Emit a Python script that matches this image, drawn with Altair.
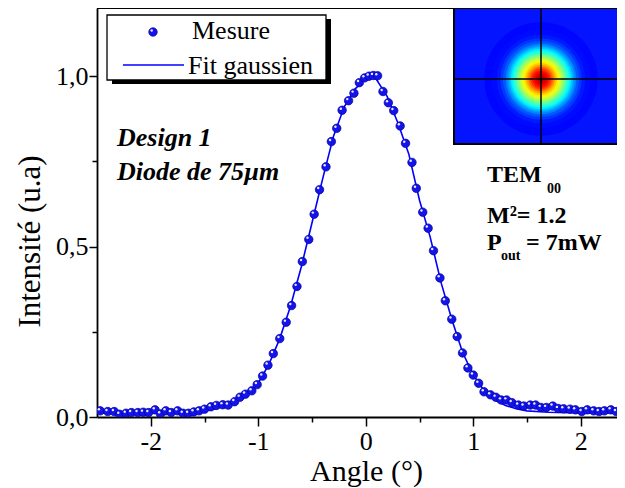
import altair as alt
import pandas as pd

# ---- measured points (angle in degrees, normalised intensity) ----
meas_x = [-2.47, -2.40, -2.34, -2.29, -2.23, -2.18, -2.12, -2.07, -2.02, -1.96,
          -1.91, -1.86, -1.81, -1.75, -1.70, -1.65, -1.60, -1.55, -1.50, -1.44,
          -1.39, -1.33, -1.28, -1.22, -1.17, -1.12, -1.06, -1.01, -0.96, -0.91,
          -0.86, -0.80, -0.74, -0.69, -0.64, -0.59, -0.53, -0.48, -0.43, -0.37,
          -0.32, -0.27, -0.22, -0.16, -0.11, -0.06, -0.01, 0.03, 0.07, 0.11,
          0.16, 0.21, 0.26, 0.32, 0.37, 0.43, 0.47, 0.53, 0.58, 0.63,
          0.69, 0.74, 0.80, 0.85, 0.90, 0.95, 1.00, 1.05, 1.10, 1.16,
          1.21, 1.26, 1.31, 1.36, 1.42, 1.47, 1.53, 1.58, 1.63, 1.68,
          1.74, 1.79, 1.84, 1.90, 1.95, 2.01, 2.06, 2.12, 2.17, 2.22,
          2.28, 2.33, 2.39]
meas_y = [0.018, 0.016, 0.016, 0.008, 0.011, 0.013, 0.013, 0.014, 0.013, 0.021,
          0.009, 0.018, 0.013, 0.018, 0.011, 0.011, 0.015, 0.018, 0.023, 0.030,
          0.034, 0.036, 0.035, 0.045, 0.058, 0.067, 0.077, 0.095, 0.120, 0.152,
          0.186, 0.230, 0.278, 0.327, 0.383, 0.456, 0.521, 0.595, 0.667, 0.734,
          0.808, 0.847, 0.900, 0.928, 0.950, 0.981, 0.995, 1.000, 1.002, 1.001,
          0.955, 0.922, 0.899, 0.854, 0.803, 0.747, 0.671, 0.601, 0.554, 0.488,
          0.408, 0.341, 0.287, 0.236, 0.188, 0.144, 0.123, 0.099, 0.074, 0.065,
          0.058, 0.050, 0.050, 0.042, 0.035, 0.032, 0.035, 0.035, 0.028, 0.028,
          0.032, 0.025, 0.024, 0.023, 0.021, 0.016, 0.021, 0.018, 0.016, 0.018,
          0.021, 0.016, 0.013]

# ---- gaussian fit curve ----
fit_x = [-2.5, -2.0, -1.7, -1.5, -1.4, -1.3, -1.2, -1.1, -1.0, -0.9, -0.8, -0.7,
         -0.6, -0.5, -0.4, -0.3, -0.2, -0.1, 0.0, 0.05, 0.1, 0.2, 0.3, 0.4, 0.5,
         0.6, 0.7, 0.8, 0.9, 1.0, 1.1, 1.2, 1.3, 1.4, 1.5, 1.7, 2.0, 2.45]
fit_y = [0.012, 0.012, 0.014, 0.018, 0.024, 0.032, 0.045, 0.066, 0.100, 0.155,
         0.230, 0.325, 0.440, 0.570, 0.700, 0.824, 0.910, 0.962, 0.993, 1.000,
         0.990, 0.940, 0.862, 0.772, 0.636, 0.527, 0.395, 0.287, 0.190, 0.123,
         0.078, 0.050, 0.034, 0.024, 0.018, 0.014, 0.012, 0.012]

# ---- inset beam profile (ring radius in px, normalised level) ----
ring_radius = [64, 56, 50, 46, 43, 40, 38, 36, 34, 32, 30, 28, 26, 24, 22, 20,
               18, 16, 14, 12, 10, 8, 6, 4, 2]
ring_level = [0.13, 0.135, 0.15, 0.18, 0.21, 0.25, 0.28, 0.32, 0.36, 0.40,
              0.44, 0.48, 0.52, 0.56, 0.60, 0.64, 0.68, 0.72, 0.77, 0.82,
              0.86, 0.89, 0.92, 0.94, 0.95]

x_ticks = [-2, -1.5, -1, -0.5, 0, 0.5, 1, 1.5, 2]
y_ticks = [0, 0.25, 0.5, 0.75, 1.0]

legend_labels = ["Mesure", "Fit gaussien"]
design_labels = ["Design 1", "Diode de 75\u00b5m"]

W, H = 520, 409
FONT = "Liberation Serif"
BLUE = "#0000ff"

meas = pd.DataFrame({"x": meas_x, "y": meas_y})
fit = pd.DataFrame({"x": fit_x, "y": fit_y})
rings = pd.DataFrame({"r": ring_radius, "v": ring_level})
one = pd.DataFrame({"a": [0]})

xaxis = alt.Axis(
    values=x_ticks, title="Angle (\u00b0)", grid=False,
    labelExpr="datum.value % 1 === 0 ? replace(format(datum.value, 'd'), '\u2212', '-') : ''",
    tickSize={"condition": {"test": "datum.value % 1 === 0", "value": 9}, "value": 5},
    tickColor="black", tickWidth=1.5, domainColor="black", domainWidth=1.8,
    labelFont=FONT, labelFontSize=26, labelColor="black", labelPadding=2,
    titleFont=FONT, titleFontSize=30, titleFontWeight="normal", titleColor="black",
    titleBaseline="alphabetic", titleY=63, titleX=269,
)
yaxis = alt.Axis(
    values=y_ticks, title="Intensit\u00e9 (u.a)", grid=False,
    labelExpr="round(datum.value * 100) % 50 === 0 ? replace(format(datum.value, '.1f'), '.', ',') : ''",
    tickSize={"condition": {"test": "round(datum.value * 100) % 50 === 0", "value": 8}, "value": 5},
    tickColor="black", tickWidth=1.5, domainColor="black", domainWidth=1.8,
    labelFont=FONT, labelFontSize=26, labelColor="black", labelPadding=1,
    titleFont=FONT, titleFontSize=31, titleFontWeight="normal", titleColor="black",
    titleAngle=-90, titleAlign="center", titleBaseline="middle", titleX=-67, titleY=233,
)
X = alt.X("x:Q", scale=alt.Scale(domain=[-2.5, 2.337], nice=False, zero=False), axis=xaxis)
Y = alt.Y("y:Q", scale=alt.Scale(domain=[0, 1.2], nice=False, zero=False), axis=yaxis)

fit_line = alt.Chart(fit).mark_line(color=BLUE, strokeWidth=1.6, clip=True).encode(x=X, y=Y)
balls = alt.Chart(meas).mark_circle(size=72, color="#1414ea", opacity=1, stroke="#0000a0",
                                    strokeWidth=0.7, clip=True).encode(x=X, y=Y)
shine = alt.Chart(meas).mark_circle(size=6, color="white", opacity=0.9, xOffset=-1.3,
                                    yOffset=-1.6, clip=True).encode(x=X, y=Y)

# top frame
top_frame = alt.Chart(one).mark_rule(color="black", strokeWidth=1.8).encode(
    x=alt.value(0), x2=alt.value(W + 10), y=alt.value(0))

# ---- inset picture ----
inset_bg = alt.Chart(one).mark_rect(fill="#0514ff", stroke="black", strokeWidth=2).encode(
    x=alt.value(357), x2=alt.value(W + 10), y=alt.value(0), y2=alt.value(136))
inset_rings = alt.Chart(rings).mark_circle(opacity=1).encode(
    x=alt.value(444), y=alt.value(71),
    size=alt.Size("r:Q", scale=alt.Scale(type="pow", exponent=2, domain=[0, 60], range=[0, 11310]),
                  legend=None),
    color=alt.Color("v:Q", scale=alt.Scale(domain=[0, 0.125, 0.375, 0.625, 0.875, 1],
                                           range=["#000080", "#0000ff", "#00ffff", "#ffff00",
                                                  "#ff0000", "#800000"], interpolate="rgb"),
                    legend=None),
    order=alt.Order("r:Q", sort="descending"),
)
cross_v = alt.Chart(one).mark_rule(color="black", strokeWidth=1.5).encode(
    x=alt.value(444), y=alt.value(0), y2=alt.value(136))
cross_h = alt.Chart(one).mark_rule(color="black", strokeWidth=1.5).encode(
    x=alt.value(357), x2=alt.value(W + 10), y=alt.value(71))
inset_border = alt.Chart(one).mark_rect(fill=None, stroke="black", strokeWidth=2).encode(
    x=alt.value(357), x2=alt.value(W + 10), y=alt.value(0), y2=alt.value(136))

# ---- legend box ----
leg_shadow = alt.Chart(one).mark_rect(color="black").encode(
    x=alt.value(15), x2=alt.value(234), y=alt.value(11), y2=alt.value(76))
leg_box = alt.Chart(one).mark_rect(fill="white", stroke="black", strokeWidth=1.3).encode(
    x=alt.value(10), x2=alt.value(229), y=alt.value(7), y2=alt.value(72))
leg_ball = alt.Chart(one).mark_circle(size=72, color="#1414ea", opacity=1, stroke="#0000a0",
                                      strokeWidth=0.7).encode(x=alt.value(56), y=alt.value(24))
leg_shine = alt.Chart(one).mark_circle(size=6, color="white", opacity=0.9).encode(
    x=alt.value(54.7), y=alt.value(22.4))
leg_line = alt.Chart(one).mark_rule(color=BLUE, strokeWidth=1.6).encode(
    x=alt.value(26), x2=alt.value(87), y=alt.value(57))


def txt(s, x, y, size=24, weight="normal", style="normal"):
    return alt.Chart(one).mark_text(text=s, align="left", baseline="alphabetic", font=FONT,
                                    fontSize=size, fontWeight=weight, fontStyle=style,
                                    color="black").encode(x=alt.value(x), y=alt.value(y))


texts = [
    txt(legend_labels[0], 95, 31, 26),
    txt(legend_labels[1], 91, 66, 26),
    txt(design_labels[0], 20, 138, 26, "bold", "italic"),
    txt(design_labels[1], 20, 172, 26, "bold", "italic"),
    txt("TEM", 390, 174, 24, "bold"),
    txt("00", 450, 185, 14, "bold"),
    txt("M\u00b2= 1.2", 390, 215, 24, "bold"),
    txt("P", 390, 242, 24, "bold"),
    txt("out", 404, 252, 14, "bold"),
    txt("= 7mW", 429, 242, 24, "bold"),
]

chart = alt.layer(
    fit_line, balls, shine, top_frame,
    inset_bg, inset_rings, cross_v, cross_h, inset_border,
    leg_shadow, leg_box, leg_ball, leg_shine, leg_line,
    *texts,
).properties(
    width=W, height=H,
    autosize=alt.AutoSizeParams(type="none"),
    padding={"left": 89, "top": 0, "right": 0, "bottom": 71},
).configure_view(stroke=None)

chart.save("out.html", embed_options={"renderer": "svg", "actions": False})
